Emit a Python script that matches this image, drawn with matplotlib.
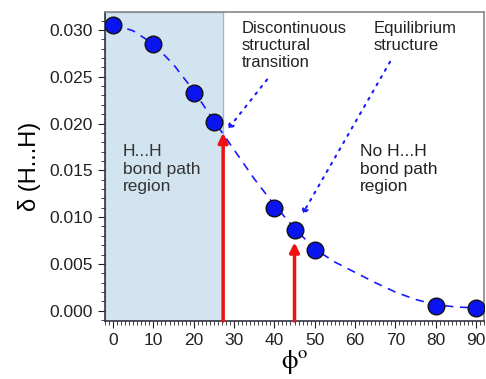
import matplotlib.pyplot as plt
from matplotlib.ticker import MultipleLocator

plt.rcParams["font.family"] = ["Liberation Sans", "DejaVu Sans"]

# Data points
phi = [0, 10, 20, 25, 40, 45, 50, 80, 90]
delta = [0.0305, 0.0285, 0.0233, 0.0202, 0.0110, 0.00865, 0.0065, 0.00055, 0.0003]

# Dashed fitted curve
curve_x = [0, 5, 10, 15, 20, 25, 30, 35, 40, 45, 50, 55, 60, 65, 70, 75, 80, 85, 90]
curve_y = [0.0306, 0.0299, 0.0285, 0.0263, 0.0235, 0.0203, 0.0172, 0.0141, 0.0113, 0.0088,
           0.0066, 0.0052, 0.0041, 0.0030, 0.0020, 0.0012, 0.00065, 0.0004, 0.0003]

bond_region_end = 27.3
arrow_x = [27.3, 45]
arrow_top = [0.0190, 0.0073]

fig = plt.figure(figsize=(4.86, 3.79), dpi=100)
ax = fig.add_axes([0.216, 0.153, 0.78, 0.815])

# Shaded H...H bond path region
ax.axvspan(-2, bond_region_end, facecolor="#d2e4ef", edgecolor="#9cb8cc", linewidth=1, zorder=0)

# Fitted curve and points
ax.plot(curve_x, curve_y, linestyle=(0, (5, 4)), color="#1a1aff", linewidth=1.2, zorder=2)
ax.plot(phi, delta, "o", markersize=12, markerfacecolor="#0a14f0",
        markeredgecolor="#111111", markeredgewidth=1, zorder=3)

# Red arrows
for xa, ya in zip(arrow_x, arrow_top):
    ax.annotate("", xy=(xa, ya), xytext=(xa, -0.0011),
                arrowprops=dict(arrowstyle="-|>", color="#ee1111", lw=2.5,
                                mutation_scale=14, shrinkA=0, shrinkB=0), zorder=4)

# Dotted annotation arrows
ax.annotate("", xy=(28.3, 0.0193), xytext=(38.2, 0.0247),
            arrowprops=dict(arrowstyle="-|>", color="#1a1aff", lw=1.5, linestyle=(0, (1, 3)),
                            mutation_scale=9, shrinkA=0, shrinkB=0))
ax.annotate("", xy=(46.8, 0.0102), xytext=(68.7, 0.0266),
            arrowprops=dict(arrowstyle="-|>", color="#1a1aff", lw=1.5, linestyle=(0, (1, 3)),
                            mutation_scale=9, shrinkA=0, shrinkB=0))

# Text labels
ax.text(32, 0.0310, "Discontinuous\nstructural\ntransition", fontsize=12, va="top",
        ha="left", color="#222222", linespacing=1.2)
ax.text(64.5, 0.0310, "Equilibrium\nstructure", fontsize=12, va="top",
        ha="left", color="#222222", linespacing=1.2)
ax.text(61.3, 0.0178, "No H...H\nbond path\nregion", fontsize=12.5, va="top",
        ha="left", color="#222222", linespacing=1.2)
ax.text(2.5, 0.0178, "H...H\nbond path\nregion", fontsize=12.5, va="top",
        ha="left", color="#333333", linespacing=1.2)

ax.set_xlim(-2, 92)
ax.set_ylim(-0.0011, 0.0319)
ax.set_xticks(range(0, 91, 10))
ax.set_yticks([0.000, 0.005, 0.010, 0.015, 0.020, 0.025, 0.030])
ax.set_yticklabels(["0.000", "0.005", "0.010", "0.015", "0.020", "0.025", "0.030"])
ax.xaxis.set_minor_locator(MultipleLocator(1))
ax.yaxis.set_minor_locator(MultipleLocator(0.001))
ax.tick_params(axis="both", which="major", direction="out", length=5, labelsize=12.5, colors="#222222")
ax.tick_params(axis="both", which="minor", direction="out", length=3, color="#222222")

ax.set_xlabel(r"$\mathrm{\phi}^\mathrm{o}$", fontsize=19, labelpad=0, math_fontfamily="stix")
ax.set_ylabel("δ (H...H)", fontsize=17, labelpad=6)

for side in ["left", "bottom"]:
    ax.spines[side].set_color("#333344")
    ax.spines[side].set_linewidth(1.2)
for side in ["top", "right"]:
    ax.spines[side].set_color("#888888")
    ax.spines[side].set_linewidth(1.2)

plt.savefig("out.png", dpi=100)
